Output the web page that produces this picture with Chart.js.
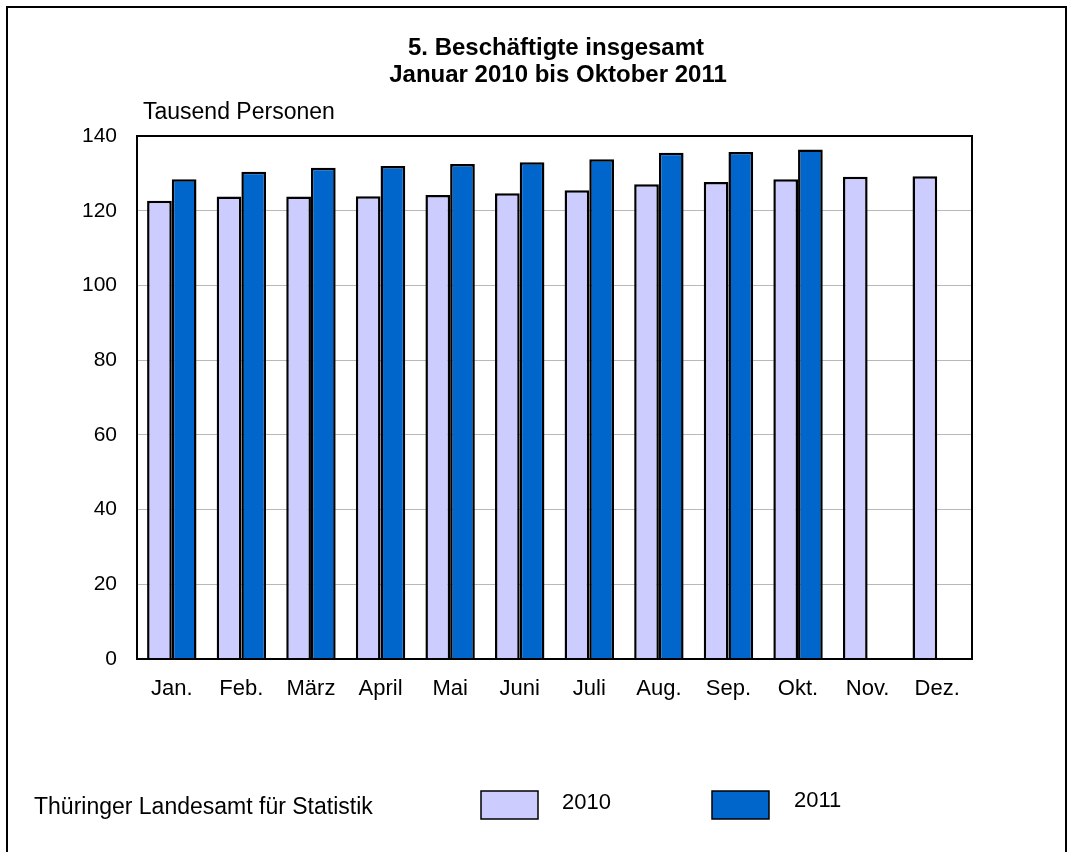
<!DOCTYPE html>
<html><head><meta charset="utf-8">
<script src="https://cdn.jsdelivr.net/npm/chart.js@4.4.0/dist/chart.umd.min.js"></script>
<style>html,body{margin:0;padding:0;background:#fff}canvas{display:block}</style>
</head><body>
<canvas id="c" width="1071" height="852"></canvas>
<script>
const categories = ["Jan.","Feb.","März","April","Mai","Juni","Juli","Aug.","Sep.","Okt.","Nov.","Dez."];
const values2010 = [122.7,123.8,123.8,123.9,124.2,124.7,125.5,127.1,127.7,128.4,129.1,129.2];
const values2011 = [128.4,130.4,131.5,132.0,132.5,133.0,133.8,135.5,135.7,136.4,null,null];
const seriesLabels = ["2010","2011"];
const titleLines = ["5. Beschäftigte insgesamt","Januar 2010 bis Oktober 2011"];
const yUnit = "Tausend Personen";
const source = "Thüringer Landesamt für Statistik";

const FONT = "'Liberation Sans', Arial, sans-serif";
const colors = ["#ccccff","#0066cc"];

const deco = {
  id:'deco',
  afterDraw(chart){
    const ctx = chart.ctx, a = chart.chartArea;
    ctx.save();
    // outer frame
    ctx.strokeStyle = '#000'; ctx.lineWidth = 2;
    ctx.strokeRect(7, 7, 1059, 850);
    // plot frame
    ctx.lineWidth = 2;
    ctx.strokeRect(a.left, a.top, a.right - a.left, a.bottom - a.top);
    // title
    ctx.fillStyle = '#000';
    ctx.textAlign = 'center'; ctx.textBaseline = 'middle';
    ctx.font = 'bold 24px ' + FONT;
    ctx.fillText(titleLines[0], 556, 48);
    ctx.fillText(titleLines[1], 558, 75);
    // unit
    ctx.font = '23px ' + FONT;
    ctx.textAlign = 'left';
    ctx.fillText(yUnit, 143, 113);
    // source
    ctx.fillText(source, 34, 808);
    // legend
    const legendPos = [{x:481,y:791,tx:562,ty:803},{x:712,y:791,tx:794,ty:801}];
    chart.data.datasets.forEach((ds,i)=>{
      const p = legendPos[i];
      ctx.fillStyle = ds.backgroundColor;
      ctx.fillRect(p.x, p.y, 57, 28);
      ctx.strokeStyle = '#000'; ctx.lineWidth = 1.5;
      ctx.strokeRect(p.x, p.y, 57, 28);
      ctx.fillStyle = '#000';
      ctx.font = '22px ' + FONT;
      ctx.textAlign = 'left';
      ctx.fillText(ds.label, p.tx, p.ty);
    });
    ctx.restore();
  }
};

new Chart(document.getElementById('c'), {
  type: 'bar',
  data: {
    labels: categories,
    datasets: [
      {label: seriesLabels[0], data: values2010, backgroundColor: colors[0], borderColor:'#000', borderWidth:2.5, categoryPercentage:0.71, barPercentage:1.0},
      {label: seriesLabels[1], data: values2011, backgroundColor: colors[1], borderColor:'#000', borderWidth:2.5, categoryPercentage:0.71, barPercentage:1.0}
    ]
  },
  options: {
    responsive:false, animation:false,
    layout:{padding:{left:0,top:136,right:99,bottom:0}},
    plugins:{legend:{display:false}, title:{display:false}, tooltip:{enabled:false}},
    scales:{
      x:{
        grid:{display:false, drawTicks:false},
        border:{display:true,color:'#000',width:2},
        ticks:{color:'#000', font:{family:FONT,size:22}, padding:17, maxRotation:0},
        afterFit(s){ s.height = 852 - 659; }
      },
      y:{
        min:0, max:140,
        grid:{color:'#b8b8b8', lineWidth:1, drawTicks:false},
        border:{display:true,color:'#000',width:2},
        ticks:{stepSize:20, color:'#000', font:{family:FONT,size:21}, padding:20},
        afterFit(s){ s.width = 137; }
      }
    }
  },
  plugins:[deco]
});
</script>
</body></html>
